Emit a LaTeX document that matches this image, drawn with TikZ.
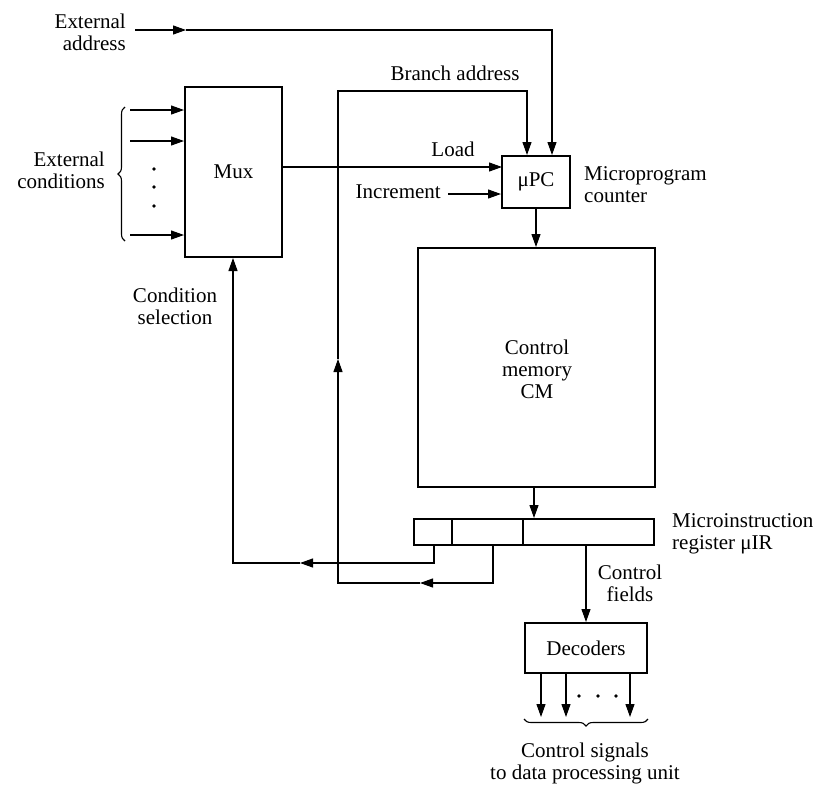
\documentclass[tikz,border=0pt]{standalone}
\usepackage{fontspec}
\setmainfont{Liberation Serif}
\usetikzlibrary{arrows.meta,decorations.pathreplacing}
\begin{document}
\begin{tikzpicture}[x=1pt,y=-1pt,
  every node/.style={font=\fontsize{21}{22}\selectfont},
  box/.style={draw, line width=2pt, inner sep=0pt},
  lbl/.style={inner sep=0pt, align=center},
  wire/.style={line width=1.1pt},
  arr/.style={wire, -{Triangle[length=13pt,width=9pt]}},
  brc/.style={line width=1.1pt, decorate, decoration={brace, amplitude=7pt}}]
\useasboundingbox (0,0) rectangle (817,788);

% blocks
\node[box, minimum width=97pt, minimum height=170pt] (mux) at (233.5,172) {Mux};
\node[box, minimum width=68pt, minimum height=52pt] (pc) at (536,182) {μPC};
\node[box, minimum width=237pt, minimum height=239pt] (cm) at (536.5,367.5) {};
\node[lbl] (cmt) at (537,369) {Control\\memory\\CM};
\node[box, minimum width=240pt, minimum height=26pt] (ir) at (534,532) {};
\node[box, minimum width=122pt, minimum height=50pt] (dec) at (586,648) {Decoders};

% IR dividers
\coordinate (dv1) at (452,519); \coordinate (dv2) at (523,519);
\draw[line width=1.5pt] (dv1) -- (dv1 |- ir.south);
\draw[line width=1.5pt] (dv2) -- (dv2 |- ir.south);

% labels
\node[lbl, align=right, anchor=east] (ealbl) at (126,32) {External\\address};
\node[lbl] (balbl) at (455,73) {Branch address};
\node[lbl] (ldlbl) at (453,149) {Load};
\node[lbl, anchor=east] (inc) at (441,192) {Increment};
\node[lbl, align=left, anchor=west] (mpc) at (584,185) {Microprogram\\counter};
\node[lbl, align=right, anchor=east] (ecl) at (105,170) {External\\conditions};
\node[lbl] (csl) at (175,306) {Condition\\selection};
\node[lbl, align=left, anchor=west] (mirl) at (672,534) {Microinstruction\\register μIR};
\node[lbl] (cfl) at (630,583) {Control\\fields};
\node[lbl] (csg) at (585,763) {Control signals\\to data processing unit};

% external address
\coordinate (ea0) at (135,30);
\coordinate (ea1) at (186,30);
\coordinate (ea2) at (552,30);
\draw[arr] (ea0) -- (ea1);
\draw[arr] (ea1) -- (ea2) -- (ea2 |- pc.north);

% external conditions
\coordinate (ec1) at (130,110); \coordinate (ec2) at (130,141); \coordinate (ec3) at (130,235);
\draw[arr] (ec1) -- (ec1 -| mux.west);
\draw[arr] (ec2) -- (ec2 -| mux.west);
\draw[arr] (ec3) -- (ec3 -| mux.west);
\foreach \y in {169,187,206} \fill (154,\y) circle (1.9pt);
\coordinate (bra) at (125,241); \coordinate (brb) at (125,107);
\draw[brc] (bra) -- (brb);

% load
\coordinate (ld) at (502,167);
\draw[arr] (mux.east |- ld) -- (ld);

% increment
\coordinate (inc0) at (448,194);
\draw[arr] (inc0) -- (inc0 -| pc.west);

% pc -> cm -> ir
\draw[arr] (pc.south) -- (pc.south |- cm.north);
\coordinate (cmo) at (534,487);
\draw[arr] (cmo) -- (cmo |- ir.north);

% condition select path
\coordinate (f1) at (434,545);
\coordinate (f1b) at (434,563);
\coordinate (f1c) at (300,563);
\coordinate (f1d) at (233,563);
\draw[arr] (f1) -- (f1b) -- (f1c);
\draw[arr] (f1c) -- (f1d) -- (f1d |- mux.south);

% branch path
\coordinate (f2) at (493,545);
\coordinate (f2b) at (493,583);
\coordinate (f2c) at (420,583);
\coordinate (f2d) at (338,583);
\coordinate (f2e) at (338,359);
\coordinate (f2f) at (338,91);
\coordinate (f2g) at (527,91);
\draw[arr] (f2) -- (f2b) -- (f2c);
\draw[arr] (f2c) -- (f2d) -- (f2e);
\draw[arr] (f2e) -- (f2f) -- (f2g) -- (f2g |- pc.north);

% control fields
\draw[arr] (ir.south -| dec.north) -- (dec.north);

% decoder outputs
\coordinate (o1) at (541,717); \coordinate (o2) at (566,717); \coordinate (o3) at (630,717);
\draw[arr] (o1 |- dec.south) -- (o1);
\draw[arr] (o2 |- dec.south) -- (o2);
\draw[arr] (o3 |- dec.south) -- (o3);
\foreach \x in {579,598,616} \fill (\x,696) circle (1.9pt);
\coordinate (bb1) at (648,719); \coordinate (bb2) at (524,719);
\draw[brc] (bb1) -- (bb2);
\end{tikzpicture}
\end{document}
